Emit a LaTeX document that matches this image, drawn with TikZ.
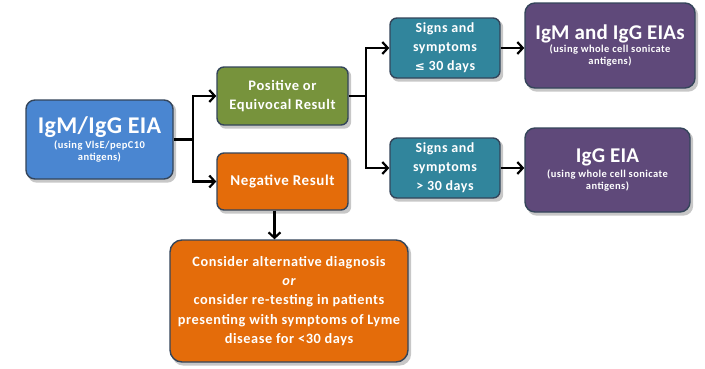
\documentclass[tikz,border=0pt]{standalone}
\usepackage{fontspec}
\setmainfont{Carlito}[LetterSpace=4]
\newfontfamily\djv{DejaVu Sans}
\usetikzlibrary{arrows.meta,backgrounds,calc}
\definecolor{cblue}{HTML}{4A86D1}
\definecolor{cgreen}{HTML}{77933C}
\definecolor{corange}{HTML}{E46C0A}
\definecolor{cteal}{HTML}{31859C}
\definecolor{cpurple}{HTML}{5F497A}
\definecolor{cborder}{HTML}{34455A}
\newcommand\bluef{\fontsize{24}{26}\selectfont\addfontfeature{LetterSpace=1.5}}
\newcommand\purf{\fontsize{21}{23}\selectfont\addfontfeature{LetterSpace=1}}
\newcommand\smf{\fontsize{10.5}{13}\selectfont}
\begin{document}
\begin{tikzpicture}[x=1pt,y=-1pt,
  fbox/.style={draw=cborder, line width=1.4pt, rounded corners=9pt, text=white,
    font=\bfseries, align=center, inner sep=2pt},
  shd/.style={fill=black, opacity=0.22},
  arr/.style={line width=2.2pt, -{Straight Barb[length=5.5pt,width=12pt]}},
  ln/.style={line width=2.2pt}
]
\useasboundingbox (0,0) rectangle (705,368);

\node[fbox, fill=cblue, minimum width=147pt, minimum height=79pt] (nblue) at (99.5,139.5)
  {\bluef IgM/IgG EIA\\[3pt]\smf (using VlsE/pepC10\\\smf antigens)};

\node[fbox, fill=cgreen, minimum width=131pt, minimum height=58pt, rounded corners=7pt, font=\bfseries\fontsize{14.5}{19.5}\selectfont] (green) at (282.5,96)
  {Positive or\\Equivocal Result};

\node[fbox, fill=corange, minimum width=131pt, minimum height=57pt, rounded corners=7pt, font=\bfseries\fontsize{15}{18}\selectfont] (neg) at (282.5,181.5)
  {Negative Result};

\node[fbox, fill=cteal, minimum width=110pt, minimum height=60pt, rounded corners=7pt, font=\bfseries\fontsize{14}{19}\selectfont] (teal1) at (445,48)
  {Signs and\\symptoms\\{\djv\bfseries\fontsize{12}{14}\selectfont ≤} 30 days};

\node[fbox, fill=cteal, minimum width=110pt, minimum height=60pt, rounded corners=7pt, font=\bfseries\fontsize{14}{19}\selectfont] (teal2) at (445,168)
  {Signs and\\symptoms\\> 30 days};

\node[fbox, fill=cpurple, minimum width=170pt, minimum height=85pt, rounded corners=10pt] (pur1) at (610,45.5)
  {\purf IgM and IgG EIAs\\[1pt]\smf (using whole cell sonicate\\\smf antigens)};

\node[fbox, fill=cpurple, minimum width=165pt, minimum height=84pt, rounded corners=10pt] (pur2) at (607.5,170)
  {\purf IgG EIA\\[3pt]\smf (using whole cell sonicate\\\smf antigens)};

\node[fbox, fill=corange, minimum width=238pt, minimum height=122pt, rounded corners=12pt, font=\bfseries\fontsize{14.3}{19.2}\selectfont] (bottom) at (289,301)
  {Consider alternative diagnosis\\
   {\itshape or}\\
   consider re-testing in patients\\
   presenting with symptoms of Lyme\\
   disease for <30 days};

\begin{scope}[on background layer]
  \fill[white] (0,0) rectangle (705,368);
  \foreach \n/\r in {nblue/9pt,green/7pt,neg/7pt,teal1/7pt,teal2/7pt,pur1/10pt,pur2/10pt,bottom/12pt}{
    \fill[shd, rounded corners=\r] ($(\n.north west)+(2.5,3)$) rectangle ($(\n.south east)+(2.5,3)$);
  }
\end{scope}

\coordinate (j1) at (193,139.5);
\coordinate (j2) at (366,96);
\draw[ln] (nblue.east) -- (j1);
\draw[arr] (j1) |- (green.west);
\draw[arr] (j1) |- (neg.west);
\draw[ln] (green.east) -- (j2);
\draw[arr] (j2) |- (teal1.west);
\draw[arr] (j2) |- (teal2.west);
\draw[arr] (teal1.east) -- (teal1.east -| pur1.west);
\draw[arr] (teal2.east) -- (teal2.east -| pur2.west);
\draw[arr] ([xshift=-8pt]neg.south) -- ([xshift=-8pt]neg.south |- bottom.north);
\end{tikzpicture}
\end{document}
